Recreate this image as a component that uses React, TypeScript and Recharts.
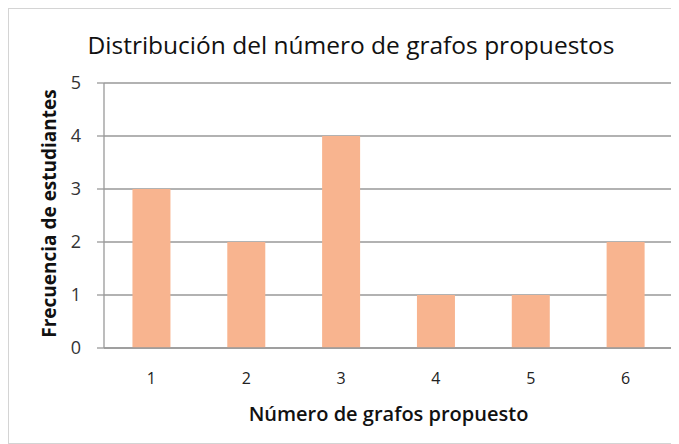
import { BarChart, Bar, XAxis, YAxis, CartesianGrid, Label } from 'recharts';

const categories = ['1', '2', '3', '4', '5', '6'];
const frecuencias = [3, 2, 4, 1, 1, 2];
const yTicks = [0, 1, 2, 3, 4, 5];

const data = categories.map((c, i) => ({ name: c, value: frecuencias[i] }));

const FONT = '"Open Sans", "Liberation Sans", sans-serif';

function YLabel(props: any) {
  const vb = props.viewBox || {};
  const cx = 40;
  const cy = vb.y + vb.height / 2 - 2;
  return (
    <text
      x={cx}
      y={cy}
      transform={`rotate(-90, ${cx}, ${cy})`}
      textAnchor="middle"
      dominantBaseline="central"
      fontFamily={FONT}
      fontSize={19}
      fontWeight={700}
      fill="#111"
    >
      Frecuencia de estudiantes
    </text>
  );
}

export default function App() {
  return (
    <div
      style={{
        position: 'relative',
        width: 671,
        height: 436,
        border: '1px solid #d4d4d4',
        boxSizing: 'border-box',
        background: '#fff',
        fontFamily: FONT,
      }}
    >
      <div
        style={{
          position: 'absolute',
          top: 19,
          left: 0,
          width: 684,
          textAlign: 'center',
          fontSize: 24.5,
          color: '#111',
        }}
      >
        Distribución del número de grafos propuestos
      </div>
      <BarChart
        width={669}
        height={434}
        data={data}
        margin={{ top: 74, right: 5, left: 0, bottom: 0 }}
        barCategoryGap="30%"
        style={{ position: 'absolute', top: 0, left: 0 }}
      >
        <CartesianGrid vertical={false} stroke="#999" strokeWidth={1.3} />
        <XAxis
          dataKey="name"
          height={95}
          axisLine={{ stroke: '#999', strokeWidth: 1.3 }}
          tickLine={false}
          tick={{ fill: '#222', fontSize: 16, fontFamily: FONT }}
          tickMargin={19}
        >
          <Label
            value="Número de grafos propuesto"
            position="insideBottom"
            offset={22}
            fill="#111"
            fontSize={20}
            fontWeight={600}
            fontFamily={FONT}
          />
        </XAxis>
        <YAxis
          width={95}
          domain={[0, 5]}
          ticks={yTicks}
          interval={0}
          axisLine={{ stroke: '#999', strokeWidth: 1.3 }}
          tickLine={{ stroke: '#999', strokeWidth: 1.3 }}
          tickSize={7}
          tickMargin={16}
          tick={{ fill: '#333', fontSize: 18, fontFamily: FONT }}
        >
          <Label content={<YLabel />} />
        </YAxis>
        <Bar dataKey="value" fill="#F8B48F" isAnimationActive={false} />
      </BarChart>
    </div>
  );
}
